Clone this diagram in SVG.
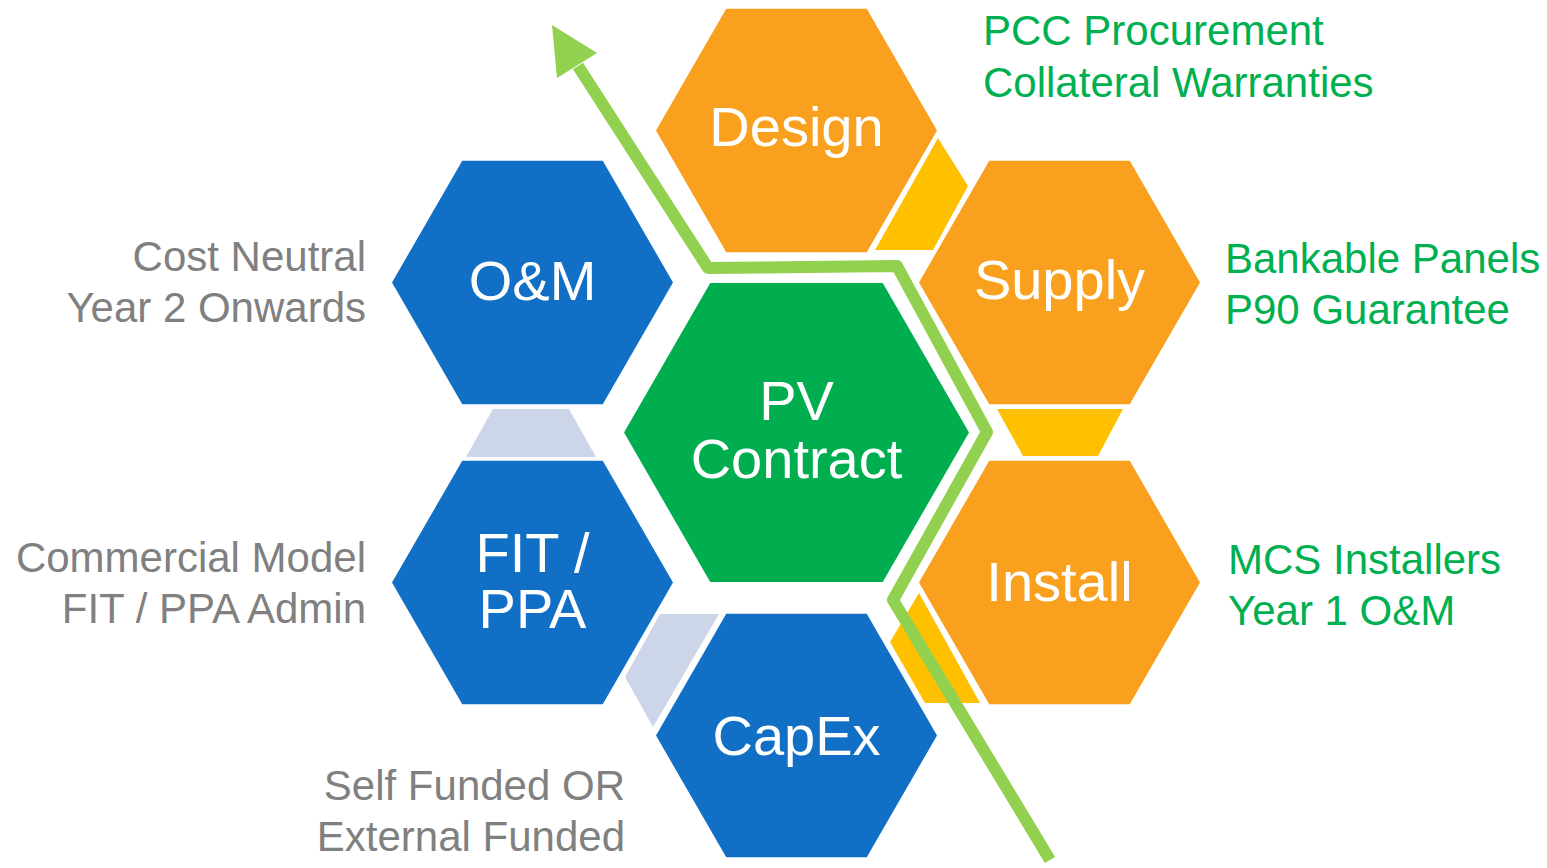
<svg xmlns="http://www.w3.org/2000/svg" width="1547" height="868" viewBox="0 0 1547 868">
<style>
.hexO{fill:#F9A01E}
.hexB{fill:#1170C5}
.hexG{fill:#00AE4F}
.gapY{fill:#FFC000}
.gapB{fill:#CDD5E9}
.lbl{font-family:"Liberation Sans",Arial,sans-serif;font-size:56px;fill:#FFFFFF;text-anchor:middle}
.side{font-family:"Liberation Sans",Arial,sans-serif;font-size:42px}
.grey{fill:#808080;text-anchor:end}
.grn{fill:#00B050}
.arrow{fill:none;stroke:#92D050;stroke-width:12;stroke-linejoin:round}
</style>
<rect width="1547" height="868" fill="#FFFFFF"/>
<g id="gaps">
<polygon class="gapY" points="938,138 968,186 933,250 875,250"/>
<polygon class="gapY" points="997,409 1123,409 1098,456 1023,456"/>
<polygon class="gapB" points="493,409 569,409 596,457 466,457"/>
<polygon class="gapB" points="660,614 719,614 653,727 625,677"/>
<polygon class="gapY" points="919,593 980,703 925,703 890,642"/>
</g>
<g id="design">
<polygon class="hexO" points="656,130.5 726.25,8.8 866.75,8.8 937,130.5 866.75,252.2 726.25,252.2"/>
<text class="lbl" x="796.5" y="146">Design</text>
</g>
<g id="supply">
<polygon class="hexO" points="919,282.5 989.25,160.8 1129.75,160.8 1200,282.5 1129.75,404.2 989.25,404.2"/>
<text class="lbl" x="1059.5" y="299">Supply</text>
</g>
<g id="install">
<polygon class="hexO" points="919,582.5 989.25,460.8 1129.75,460.8 1200,582.5 1129.75,704.2 989.25,704.2"/>
<text class="lbl" x="1059.5" y="601">Install</text>
</g>
<g id="om">
<polygon class="hexB" points="392,282.5 462.25,160.8 602.75,160.8 673,282.5 602.75,404.2 462.25,404.2"/>
<text class="lbl" x="532.5" y="300">O&amp;M</text>
</g>
<g id="fitppa">
<polygon class="hexB" points="392,582.5 462.25,460.8 602.75,460.8 673,582.5 602.75,704.2 462.25,704.2"/>
<text class="lbl" x="532.5" y="572">FIT /</text>
<text class="lbl" x="532.5" y="628">PPA</text>
</g>
<g id="capex">
<polygon class="hexB" points="656,735.5 726.25,613.8 866.75,613.8 937,735.5 866.75,857.2 726.25,857.2"/>
<text class="lbl" x="796.5" y="755">CapEx</text>
</g>
<g id="pvcontract">
<polygon class="hexG" points="624,432.5 710.25,283.1 882.75,283.1 969,432.5 882.75,581.9 710.25,581.9"/>
<text class="lbl" x="796.5" y="420">PV</text>
<text class="lbl" x="796.5" y="478">Contract</text>
</g>
<g id="connectors">
<path class="arrow" d="M1050,860 L893,600 L987,432 L897,266 L708,268 L578,66"/>
<polygon fill="#92D050" points="552,25 597,53 557,78"/>
</g>
<g id="notes">
<text class="side grn" x="983" y="45">PCC Procurement</text>
<text class="side grn" x="983" y="97">Collateral Warranties</text>
<text class="side grn" x="1225" y="273">Bankable Panels</text>
<text class="side grn" x="1225" y="324">P90 Guarantee</text>
<text class="side grn" x="1228" y="574">MCS Installers</text>
<text class="side grn" x="1228" y="625">Year 1 O&amp;M</text>
<text class="side grey" x="366" y="271">Cost Neutral</text>
<text class="side grey" x="366" y="322">Year 2 Onwards</text>
<text class="side grey" x="366" y="572">Commercial Model</text>
<text class="side grey" x="366" y="623">FIT / PPA Admin</text>
<text class="side grey" x="625" y="800">Self Funded OR</text>
<text class="side grey" x="625" y="851">External Funded</text>
</g>
</svg>
